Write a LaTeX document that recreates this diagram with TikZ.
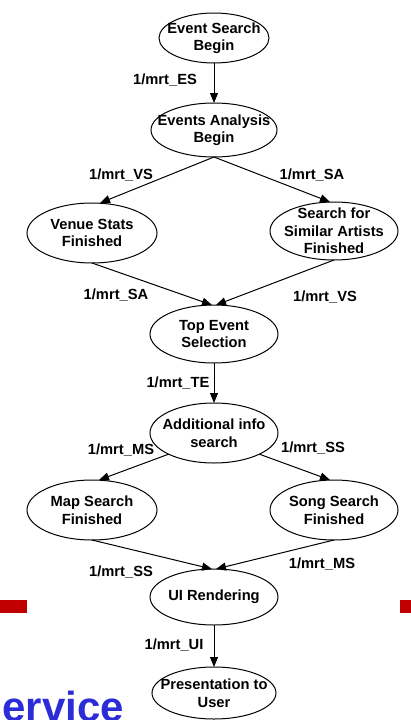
\documentclass[tikz,border=0pt]{standalone}
\usepackage{fontspec}
\setmainfont{Liberation Sans}
\usetikzlibrary{shapes.geometric,arrows.meta}
\definecolor{slidered}{RGB}{192,0,0}
\definecolor{slideblue}{RGB}{45,45,215}
\tikzset{
  state/.style={draw, ellipse, line width=1pt, inner sep=0pt, outer sep=0pt},
  statetext/.style={inner sep=0pt, align=center,
    font=\bfseries\fontsize{14.7}{17.5}\selectfont},
  trans/.style={line width=1pt, -{Triangle[length=10pt,width=8pt]}},
  rate/.style={font=\bfseries\fontsize{14.7}{17.5}\selectfont, inner sep=0pt},
}
\begin{document}
\begin{tikzpicture}[x=1pt,y=-1pt]
\useasboundingbox (0,0) rectangle (411,720);
\clip (0,0) rectangle (411,720);

% slide decorations behind the diagram
\fill[slidered] (0,600) rectangle (27,613);
\fill[slidered] (400,600) rectangle (411,613);
\node[anchor=base east, inner sep=0pt, text=slideblue,
  font=\bfseries\fontsize{42}{42}\selectfont] (title) at (124,721) {service};

% states: fixed-size ellipses, text set as a centred label
\node[state, minimum width=110pt, minimum height=50pt,
  label={[statetext, name=est]center:Event Search\\Begin}] (es) at (214,38) {};
\node[state, minimum width=126pt, minimum height=54pt,
  label={[statetext, name=eat]center:Events Analysis\\Begin}] (ea) at (214,130) {};
\node[state, minimum width=130pt, minimum height=60pt,
  label={[statetext, name=vst]center:Venue Stats\\Finished}] (vs) at (92,233) {};
\node[state, minimum width=128pt, minimum height=58pt,
  label={[statetext, name=sat]center:Search for\\Similar Artists\\Finished}] (sa) at (334,231) {};
\node[state, minimum width=128pt, minimum height=58pt,
  label={[statetext, name=tet]center:Top Event\\Selection}] (te) at (214,334) {};
\node[state, minimum width=128pt, minimum height=60pt,
  label={[statetext, name=ait]center:Additional info\\search}] (ai) at (214,433) {};
\node[state, minimum width=130pt, minimum height=60pt,
  label={[statetext, name=mst]center:Map Search\\Finished}] (ms) at (92,510) {};
\node[state, minimum width=128pt, minimum height=60pt,
  label={[statetext, name=sst]center:Song Search\\Finished}] (ss) at (334,510) {};
\node[state, minimum width=128pt, minimum height=56pt,
  label={[statetext, name=uit]center:UI Rendering}] (ui) at (214,597) {};
\node[state, minimum width=124pt, minimum height=52pt,
  label={[statetext, name=put]center:Presentation to\\User}] (pu) at (214,693) {};

% transitions
\draw[trans] (es.south) -- (ea.north);
\draw[trans] (ea.south) -- ([xshift=8pt]vs.north);
\draw[trans] (ea.south) -- ([xshift=-4pt]sa.north);
\draw[trans] (vs.south) -- ([xshift=-2pt]te.north);
\draw[trans] (sa.south) -- ([xshift=2pt]te.north);
\draw[trans] (te.south) -- (ai.north);
\draw[trans] (ai.205) -- ([xshift=7pt]ms.north);
\draw[trans] (ai.335) -- ([xshift=-4pt]ss.north);
\draw[trans] (ms.south) -- ([xshift=-2pt]ui.north);
\draw[trans] (ss.south) -- ([xshift=2pt]ui.north);
\draw[trans] (ui.south) -- (pu.north);

% rates
\node[rate] (r1)  at (165,80)  {1/mrt\_ES};
\node[rate] (r2)  at (121,175) {1/mrt\_VS};
\node[rate] (r3)  at (312,175) {1/mrt\_SA};
\node[rate] (r4)  at (116,295) {1/mrt\_SA};
\node[rate] (r5)  at (325,297) {1/mrt\_VS};
\node[rate] (r6)  at (178,383) {1/mrt\_TE};
\node[rate] (r7)  at (121,450) {1/mrt\_MS};
\node[rate] (r8)  at (313,448) {1/mrt\_SS};
\node[rate] (r9)  at (121,572) {1/mrt\_SS};
\node[rate] (r10) at (322,564) {1/mrt\_MS};
\node[rate] (r11) at (174,645) {1/mrt\_UI};
\end{tikzpicture}
\end{document}
